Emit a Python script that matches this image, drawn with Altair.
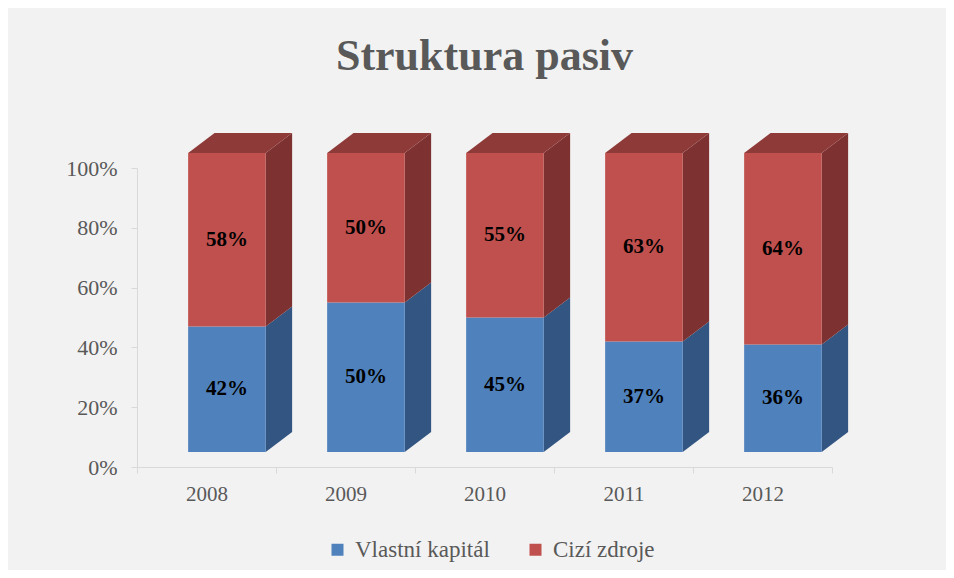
import altair as alt
import pandas as pd

# ---- data ----
years = ["2008", "2009", "2010", "2011", "2012"]
series = ["Vlastní kapitál", "Cizí zdroje"]
vlastni = [42, 50, 45, 37, 36]
cizi = [58, 50, 55, 63, 64]

# ---- style ----
front_colors = ["#4f81bd", "#c0504d"]
side_colors = ["#335581", "#7d3131"]
top_color = "#8e3a38"
FONT = "Liberation Serif"
GREY = "#595959"
AXIS_GREY = "#d9d9d9"

# 3D look (in band / percent units)
L, R = 0.368, 0.926
DX, DY = 0.19, 6.7
BASE = 5.0

front_rows, side_rows, top_rows = [], [], []
for i, yr in enumerate(years):
    vals = [vlastni[i], cizi[i]]
    lo = 0
    for s, v in enumerate(vals):
        hi = lo + v
        front_rows.append(dict(year=yr, series=series[s], x=i + L, x2=i + R,
                               y=BASE + lo, y2=BASE + hi,
                               xm=i + (L + R) / 2, ym=BASE + (lo + hi) / 2,
                               label=f"{v}%"))
        seg = f"{yr}-{s}"
        side_rows.append(dict(seg=seg, sx=i + R, sy=BASE + lo, sy2=BASE + hi, c=side_colors[s]))
        side_rows.append(dict(seg=seg, sx=i + R + DX, sy=BASE + lo + DY, sy2=BASE + hi + DY, c=side_colors[s]))
        lo = hi
    top_rows.append(dict(year=yr, ty=BASE + lo, tx=i + L, tx2=i + R))
    top_rows.append(dict(year=yr, ty=BASE + lo + DY, tx=i + L + DX, tx2=i + R + DX))

front = pd.DataFrame(front_rows)
side = pd.DataFrame(side_rows)
top = pd.DataFrame(top_rows)

label_list = ",".join(f"'{y}'" for y in years) + ",''"
x_scale = alt.Scale(domain=[0, len(years)], nice=False, zero=False)
y_scale = alt.Scale(domain=[0, 100], nice=False)

x_axis = alt.Axis(values=list(range(len(years) + 1)),
                  labelExpr=f"[{label_list}][datum.value]",
                  labelOffset=69.5, labelFlush=False, labelOverlap=False,
                  title=None, grid=False, domainColor=AXIS_GREY, tickColor=AXIS_GREY,
                  tickSize=6, labelFont=FONT, labelFontSize=21, labelColor=GREY,
                  labelPadding=10)
y_axis = alt.Axis(values=[0, 20, 40, 60, 80, 100], labelExpr="datum.value + '%'",
                  title=None, grid=False, domainColor=AXIS_GREY, tickColor=AXIS_GREY,
                  tickSize=6, labelFont=FONT, labelFontSize=22, labelColor=GREY,
                  labelPadding=14)

sides = alt.Chart(side).mark_area(orient="vertical", clip=False).encode(
    x=alt.X("sx:Q", scale=x_scale, axis=x_axis),
    y=alt.Y("sy:Q", scale=y_scale, axis=y_axis, stack=None),
    y2="sy2:Q",
    detail="seg:N",
    color=alt.Color("c:N", scale=None, legend=None),
)

tops = alt.Chart(top).mark_area(orient="horizontal", clip=False, color=top_color).encode(
    y=alt.Y("ty:Q", scale=y_scale, stack=None),
    x=alt.X("tx:Q", scale=x_scale, stack=None),
    x2="tx2:Q",
    detail="year:N",
)

fronts = alt.Chart(front).mark_rect(clip=False).encode(
    x=alt.X("x:Q", scale=x_scale),
    x2="x2:Q",
    y=alt.Y("y:Q", scale=y_scale),
    y2="y2:Q",
    color=alt.Color("series:N",
                    scale=alt.Scale(domain=series, range=front_colors),
                    legend=alt.Legend(title=None, orient="none", direction="horizontal",
                                      legendX=189, legendY=370,
                                      symbolType="square", symbolSize=144,
                                      symbolStrokeWidth=0, labelFont=FONT,
                                      labelFontSize=23, labelColor=GREY,
                                      labelOffset=6, columnPadding=34, padding=0)),
)

labels = alt.Chart(front).mark_text(font=FONT, fontSize=21, fontWeight="bold",
                                    color="black", clip=False).encode(
    x=alt.X("xm:Q", scale=x_scale),
    y=alt.Y("ym:Q", scale=y_scale),
    text="label:N",
)

chart = alt.layer(sides, tops, fronts, labels).resolve_scale(color="independent").properties(
    width=695, height=299,
    title=alt.TitleParams("Struktura pasiv", font=FONT, fontSize=44, fontWeight="bold",
                          color=GREY, anchor="middle", offset=54),
    autosize=alt.AutoSizeParams(type="none"),
    padding={"left": 129, "top": 160, "right": 114, "bottom": 103},
    background="#f2f2f2",
).configure_view(strokeWidth=0).configure_legend(labelFont=FONT)

chart.save("out.html", embed_options={"renderer": "svg", "actions": False})
